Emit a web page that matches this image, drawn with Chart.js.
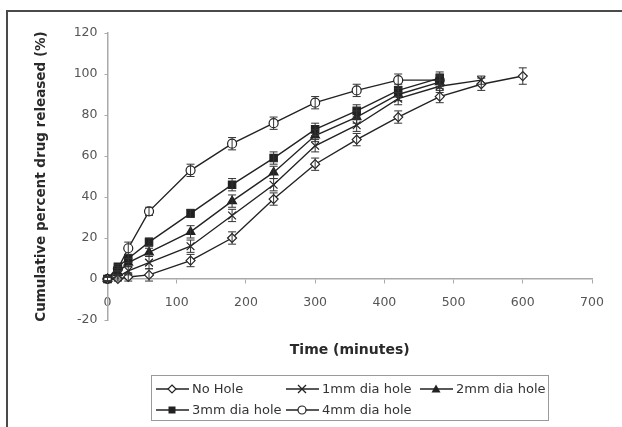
<!DOCTYPE html>
<html>
<head>
<meta charset="utf-8">
<script src="https://cdn.jsdelivr.net/npm/chart.js@4/dist/chart.umd.min.js"></script>
<style>
  body { margin: 0; background: #fff; }
  #wrap { position: relative; width: 622px; height: 427px; overflow: hidden; }
  #frame { position: absolute; left: 6px; top: 10px; width: 640px; height: 440px;
           border-left: 2px solid #4a4a4a; border-top: 2px solid #4a4a4a; }
  #legend { position: absolute; left: 151px; top: 375px; width: 396px; height: 44px;
            border: 1px solid #9a9a9a; font-family: "DejaVu Sans", sans-serif;
            font-size: 13px; color: #333; }
  .item { position: absolute; display: flex; align-items: center; white-space: nowrap; }
  .item svg { margin-right: 3px; }
</style>
</head>
<body>
<div id="wrap">
  <canvas id="myChart" width="622" height="427"></canvas>
  <div id="frame"></div>
  <div id="legend"></div>
</div>
<script>
var tiempos = [0, 15, 30, 60, 120, 180, 240, 300, 360, 420, 480, 540, 600];

var nombres = ["No Hole", "1mm dia hole", "2mm dia hole", "3mm dia hole", "4mm dia hole"];

var sin_agujero = [0, 0, 1, 2, 9, 20, 39, 56, 68, 79, 89, 95, 99];
var agujero_1mm = [0, 1, 4, 8, 16, 31, 46, 65, 75, 88, 94, 97];
var agujero_2mm = [0, 3, 8, 13, 23, 38, 52, 70, 79, 90, 96];
var agujero_3mm = [0, 6, 10, 18, 32, 46, 59, 73, 82, 92, 98];
var agujero_4mm = [0, 5, 15, 33, 53, 66, 76, 86, 92, 97, 97];

// desviaciones (barras de error)
var err_sin = [1, 1, 2, 3, 3, 3, 3, 3, 3, 3, 3, 3, 4];
var err_1mm = [1, 1, 2, 3, 3, 3, 3, 3, 3, 3, 3, 2];
var err_2mm = [1, 1, 2, 2, 3, 3, 3, 3, 3, 3, 3];
var err_3mm = [1, 1, 2, 2, 2, 3, 3, 3, 3, 3, 3];
var err_4mm = [1, 1, 3, 2, 3, 3, 3, 3, 3, 3, 3];

var ticks_x = [0, 100, 200, 300, 400, 500, 600, 700];
var ticks_y = [-20, 0, 20, 40, 60, 80, 100, 120];

var valores = [sin_agujero, agujero_1mm, agujero_2mm, agujero_3mm, agujero_4mm];
var errores = [err_sin, err_1mm, err_2mm, err_3mm, err_4mm];
var marcas = ['rectRot', 'crossRot', 'triangle', 'rect', 'circle'];
var radios = [4.5, 5.5, 5, 5.2, 4.5];
var rellenos = ['#fff', '#fff', '#222', '#222', '#fff'];

function puntos(serie) {
  return serie.map(function (v, i) { return { x: tiempos[i], y: v }; });
}

var errorBars = {
  id: 'errorBars',
  afterDatasetsDraw: function (chart) {
    var ctx = chart.ctx;
    var ys = chart.scales.y;
    ctx.save();
    ctx.strokeStyle = '#333';
    ctx.lineWidth = 1;
    chart.data.datasets.forEach(function (ds, d) {
      var meta = chart.getDatasetMeta(d);
      meta.data.forEach(function (pt, i) {
        var e = errores[d][i];
        if (!e) return;
        var v = valores[d][i];
        var top = ys.getPixelForValue(v + e);
        var bot = ys.getPixelForValue(v - e);
        ctx.beginPath();
        ctx.moveTo(pt.x, top); ctx.lineTo(pt.x, bot);
        ctx.moveTo(pt.x - 4, top); ctx.lineTo(pt.x + 4, top);
        ctx.moveTo(pt.x - 4, bot); ctx.lineTo(pt.x + 4, bot);
        ctx.stroke();
      });
    });
    ctx.restore();
  }
};

var fuente = "'DejaVu Sans', sans-serif";

new Chart(document.getElementById("myChart"), {
  type: 'line',
  data: {
    datasets: valores.map(function (serie, d) {
      return {
        label: nombres[d],
        data: puntos(serie),
        borderColor: '#222',
        borderWidth: 1.4,
        pointStyle: marcas[d],
        pointRadius: radios[d],
        pointBackgroundColor: rellenos[d],
        pointBorderColor: '#222',
        pointBorderWidth: 1.2,
        tension: 0,
        fill: false,
        clip: false
      };
    })
  },
  options: {
    responsive: false,
    animation: false,
    devicePixelRatio: 1,
    layout: { padding: { left: 29, right: 30, top: 33, bottom: 107 } },
    plugins: { legend: { display: false }, tooltip: { enabled: false } },
    scales: {
      x: {
        type: 'linear',
        position: { y: 0 },
        min: 0, max: 700,
        afterBuildTicks: function (s) { s.ticks = ticks_x.map(function (v) { return { value: v }; }); },
        ticks: { color: '#555', font: { family: fuente, size: 12.5 }, padding: 12, maxRotation: 0 },
        grid: { drawOnChartArea: false, color: '#aaa', tickLength: 4 },
        border: { color: '#aaa', width: 1.5 },
        title: { display: true, text: 'Time (minutes)', color: '#2a2a2a',
                 font: { family: fuente, size: 14, weight: 'bold' } },
        afterFit: function (s) { s.height = 84; }
      },
      y: {
        min: -20, max: 120,
        afterBuildTicks: function (s) { s.ticks = ticks_y.map(function (v) { return { value: v }; }); },
        ticks: { color: '#555', font: { family: fuente, size: 12.5 }, padding: 7 },
        grid: { drawOnChartArea: false, color: '#aaa', tickLength: 3 },
        border: { color: '#aaa', width: 1.5 },
        title: { display: true, text: 'Cumulative percent drug released (%)', color: '#2a2a2a',
                 font: { family: fuente, size: 13.5, weight: 'bold' } },
        afterFit: function (s) { s.width = 78.5; }
      }
    }
  },
  plugins: [errorBars]
});

// leyenda
var posiciones = [[4, 5], [134, 5], [268, 5], [4, 26], [134, 26]];
var leyenda = document.getElementById('legend');
nombres.forEach(function (n, d) {
  var m = '';
  if (marcas[d] === 'rectRot') m = '<polygon points="16,2 20,6 16,10 12,6" fill="#fff" stroke="#222" stroke-width="1.2"/>';
  if (marcas[d] === 'crossRot') m = '<path d="M12,2 L20,10 M20,2 L12,10" stroke="#222" stroke-width="1.3"/>';
  if (marcas[d] === 'triangle') m = '<polygon points="16,1.5 20.5,9.5 11.5,9.5" fill="#222"/>';
  if (marcas[d] === 'rect') m = '<rect x="12.5" y="2.5" width="7" height="7" fill="#222"/>';
  if (marcas[d] === 'circle') m = '<circle cx="16" cy="6" r="4" fill="#fff" stroke="#222" stroke-width="1.2"/>';
  var div = document.createElement('div');
  div.className = 'item';
  div.style.left = posiciones[d][0] + 'px';
  div.style.top = posiciones[d][1] + 'px';
  div.innerHTML = '<svg width="33" height="12"><line x1="0" y1="6" x2="33" y2="6" stroke="#222" stroke-width="1.4"/>' + m + '</svg><span>' + n + '</span>';
  leyenda.appendChild(div);
});
</script>
</body>
</html>
